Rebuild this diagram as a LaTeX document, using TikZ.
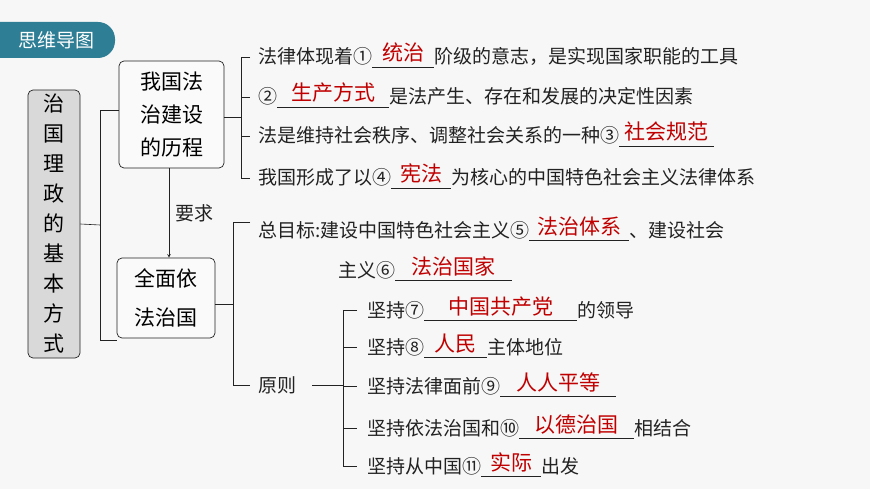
\documentclass[tikz,border=0pt]{standalone}
\usepackage{fontspec}
\setmainfont{Noto Sans CJK SC}
\usetikzlibrary{positioning,arrows}
\definecolor{tabteal}{HTML}{2E7F96}
\definecolor{ansred}{HTML}{C00000}
\definecolor{ink}{HTML}{222222}
\newcommand{\ans}[2]{\rlap{\rule[-4pt]{#1pt}{0.7pt}}\makebox[#1pt][c]{\raisebox{3pt}{\fontsize{21}{22}\selectfont\color{ansred}#2}}}
\tikzset{
  box/.style={draw=ink, rounded corners=5pt, line width=0.7pt, inner sep=0pt, align=center},
  line/.style={anchor=base west, inner sep=0pt, text=ink, font=\fontsize{19}{22}\selectfont},
  br/.style={draw=ink, line width=0.6pt}
}
\begin{document}
\begin{tikzpicture}[x=1pt,y=-1pt]
\useasboundingbox (0,0) rectangle (870,489);
\fill[black!3] (0,0) rectangle (870,489);
% title tab
\fill[tabteal, rounded corners=17pt] (-20,22) rectangle (115,58);
\node[text=white, font=\fontsize{19}{20}\selectfont] (title) at (56,40) {思维导图};
% boxes
\node[box, fill=black!15, minimum width=52pt, minimum height=268pt, font=\fontsize{21}{30}\selectfont] (root) at (54,224) {治\\国\\理\\政\\的\\基\\本\\方\\式};
\node[box, fill=black!2, minimum width=105pt, minimum height=107pt, font=\fontsize{21}{33}\selectfont] (hist) at (171.5,114.5) {我国法\\治建设\\的历程};
\node[box, fill=black!2, minimum width=98pt, minimum height=80pt, font=\fontsize{21}{39}\selectfont] (full) at (166,298) {全面依\\法治国};
\draw[br, -stealth] (hist.south -| 169,0) -- (full.north -| 169,0) node[midway, right=3pt, font=\fontsize{19}{22}\selectfont, text=ink] (req) {要求};
% root bracket
\draw[br] (root.east) -- (100,225);
\draw[br] (hist.west |- 0,110) -| (100,340) -- (full.west |- 0,340);
% history items
\node[line] (h1) at (258,64) {法律体现着①\ans{62}{统治}阶级的意志，是实现国家职能的工具};
\node[line] (h2) at (258,104) {②\ans{112}{生产方式}是法产生、存在和发展的决定性因素};
\node[line] (h3) at (258,143) {法是维持社会秩序、调整社会关系的一种③\ans{95}{社会规范}};
\node[line] (h4) at (258,185) {我国形成了以④\ans{60}{宪法}为核心的中国特色社会主义法律体系};
\draw[br] (hist.east |- 0,117) -- (241,117);
\draw[br] (250,57) -| (241,178) -- (250,178);
\draw[br] (241,97) -- (250,97);
\draw[br] (241,136) -- (250,136);
% full items
\node[line] (g1) at (258,237) {总目标:建设中国特色社会主义⑤\ans{100}{法治体系}、建设社会};
\node[line] (g2) at (338,277) {主义⑥\ans{117}{法治国家}};
\node[line] (prin) at (258,392) {原则};
\draw[br] (full.east |- 0,304) -- (233,304);
\draw[br] (250,222) -| (233,385) -- (250,385);
% principles
\node[line] (p1) at (367,317) {坚持⑦\ans{153}{中国共产党}的领导};
\node[line] (p2) at (367,354) {坚持⑧\ans{63}{人民}主体地位};
\node[line] (p3) at (367,393) {坚持法律面前⑨\ans{116}{人人平等}};
\node[line] (p4) at (367,435) {坚持依法治国和⑩\ans{115}{以德治国}相结合};
\node[line] (p5) at (367,473) {坚持从中国⑪\ans{60}{实际}出发};
\draw[br] (312,385) -- (343,385);
\draw[br] (357,310) -| (343,466) -- (357,466);
\foreach \yy in {347,386,428} \draw[br] (343,\yy) -- (357,\yy);
\end{tikzpicture}
\end{document}
